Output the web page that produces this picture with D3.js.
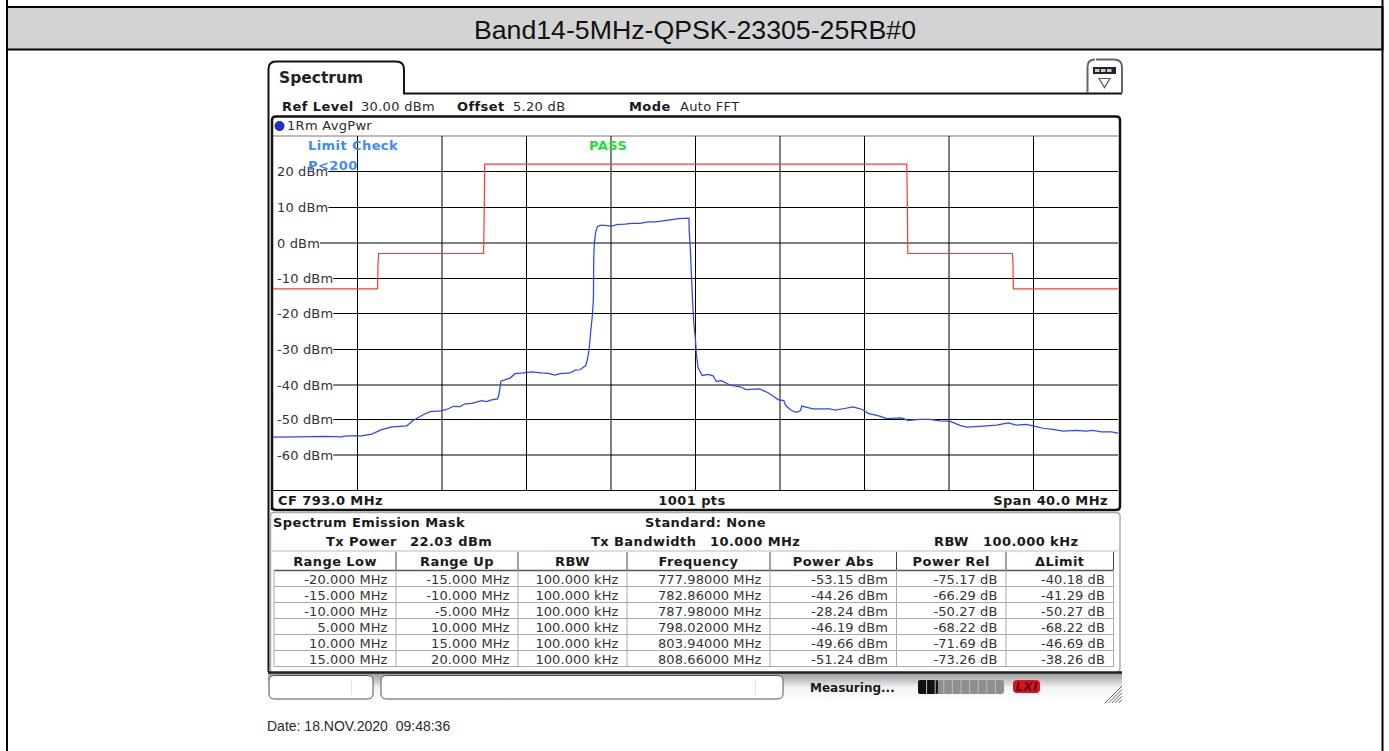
<!DOCTYPE html>
<html>
<head>
<meta charset="utf-8">
<style>
  html, body { margin: 0; background: #fff; overflow: hidden; }
  text { font-family: "DejaVu Sans", sans-serif; font-size: 13px; fill: #2a2a2a; white-space: pre; letter-spacing: 0.3px; }
  .b { font-weight: bold; letter-spacing: 0.42px; fill: #1a1a1a; }
  .cell { letter-spacing: 0.1px; fill: #333; }
  .tick text { font-size: 13px; fill: #333; letter-spacing: 0.15px; }
</style>
</head>
<body>
<svg id="chart" width="1389" height="751"></svg>
<script src="https://cdn.jsdelivr.net/npm/d3@7"></script>
<script>
const title = `Band14-5MHz-QPSK-23305-25RB#0`;
const yTicks = [20, 10, 0, -10, -20, -30, -40, -50, -60];
const softY = [0, -40, -60];

// limit line, MHz / dBm
const limitMhz = [773, 777.95, 777.97, 778, 782.97, 783, 783.02, 803, 803.03, 803.05, 808, 808.03, 808.05, 813];
const limitDbm = [-13, -13, -6, -3, -3, 10, 22.2, 22.2, 10, -3, -3, -6, -13, -13];

// trace
const traceMhz = [773, 774.2, 775.46, 776.28, 776.35, 777, 777.13, 777.67, 778.14, 778.62, 779.33, 779.64, 780.04, 780.43, 780.98, 781.3, 781.54, 781.85, 782.09, 782.4, 782.88, 783.1, 783.35, 783.63, 783.7, 783.79, 784.22, 784.46, 784.85, 785.24, 785.72, 786.03, 786.35, 786.59, 787.06, 787.3, 787.53, 787.8, 787.88, 787.96, 788.04, 788.12, 788.17, 788.18, 788.21, 788.26, 788.35, 788.48, 788.72, 789, 789.35, 789.66, 789.98, 790.37, 790.76, 791.08, 791.39, 791.71, 792.18, 792.69, 792.7, 792.75, 792.81, 792.86, 792.92, 793, 793.05, 793.13, 793.32, 793.6, 793.83, 793.99, 794.23, 794.62, 795.1, 795.41, 796.04, 796.44, 796.68, 796.91, 797.18, 797.27, 797.54, 797.78, 797.97, 798.03, 798.33, 798.57, 799.36, 799.59, 799.99, 800.46, 800.9, 801.17, 801.72, 802.04, 802.75, 803.06, 803.62, 804.09, 804.57, 805.04, 805.51, 805.86, 806.62, 807.25, 807.8, 808.19, 808.66, 808.98, 809.45, 810, 810.4, 811.03, 811.5, 811.82, 812.21, 812.69, 813];
const traceDbm = [-54.8, -54.7, -54.6, -54.75, -54.5, -54.4, -54.55, -53.95, -52.7, -51.9, -51.6, -50.1, -48.7, -47.6, -47.4, -46.8, -46.1, -46.2, -45.4, -45.3, -44.5, -44.8, -44.3, -44, -42.6, -39, -38.15, -36.9, -36.7, -36.4, -36.7, -36.8, -37.3, -36.9, -36.7, -35.9, -35.8, -34.6, -33, -30.2, -25, -20.4, -15.2, -4.9, -0.2, 2.6, 4.5, 4.9, 4.9, 4.7, 5.2, 5.3, 5.5, 5.5, 5.9, 5.9, 6.1, 6.4, 6.85, 7, 3.6, -1.1, -9.6, -16.2, -22.7, -27.4, -32.1, -35.3, -37.4, -37.1, -37.5, -39.1, -38.9, -40.1, -40.6, -41.4, -41.2, -42.3, -43.3, -44.2, -44.5, -45.9, -47.3, -47.8, -47.3, -46.05, -46.5, -46.8, -46.8, -47.2, -46.8, -46.3, -47, -48.1, -48.9, -49.6, -49.4, -50.1, -49.8, -49.8, -50.2, -50.3, -51.5, -52, -51.7, -51.4, -50.8, -51.4, -51.2, -51.6, -52.3, -52.7, -53.1, -52.9, -53.1, -52.9, -53.3, -53.3, -53.7];

// result table
const tableHeader = [`Range Low`, `Range Up`, `RBW`, `Frequency`, `Power Abs`, `Power Rel`, `ΔLimit`];
const rangeLow = [`-20.000 MHz`, `-15.000 MHz`, `-10.000 MHz`, `5.000 MHz`, `10.000 MHz`, `15.000 MHz`];
const rangeUp = [`-15.000 MHz`, `-10.000 MHz`, `-5.000 MHz`, `10.000 MHz`, `15.000 MHz`, `20.000 MHz`];
const rbw = [`100.000 kHz`, `100.000 kHz`, `100.000 kHz`, `100.000 kHz`, `100.000 kHz`, `100.000 kHz`];
const frequency = [`777.98000 MHz`, `782.86000 MHz`, `787.98000 MHz`, `798.02000 MHz`, `803.94000 MHz`, `808.66000 MHz`];
const powerAbs = [`-53.15 dBm`, `-44.26 dBm`, `-28.24 dBm`, `-46.19 dBm`, `-49.66 dBm`, `-51.24 dBm`];
const powerRel = [`-75.17 dB`, `-66.29 dB`, `-50.27 dB`, `-68.22 dB`, `-71.69 dB`, `-73.26 dB`];
const deltaLimit = [`-40.18 dB`, `-41.29 dB`, `-50.27 dB`, `-68.22 dB`, `-46.69 dB`, `-38.26 dB`];

const svg = d3.select(`#chart`);
const x = d3.scaleLinear().domain([773, 813]).range([273, 1118]);
const y = d3.scaleLinear().domain([30, -70]).range([136.5, 491]);

const label = (px, py, str, cls, anchor) => svg.append(`text`)
  .attr(`x`, px).attr(`y`, py)
  .attr(`class`, cls || null)
  .attr(`text-anchor`, anchor || `start`)
  .text(str);

const box = (d, stroke, width, fill) => svg.append(`path`)
  .attr(`d`, d)
  .attr(`fill`, fill || `none`)
  .attr(`stroke`, stroke)
  .attr(`stroke-width`, width);

// page frame
svg.append(`rect`).attr(`x`, 7).attr(`y`, 7).attr(`width`, 1375.5).attr(`height`, 42.5)
  .attr(`fill`, `#d3d3d3`).attr(`stroke`, `#000`).attr(`stroke-width`, 2);
box(`M7 0V751M1382.5 0V751`, `#000`, 2);
label(695, 39, title).attr(`text-anchor`, `middle`)
  .style(`font-family`, `"Liberation Sans", sans-serif`).style(`font-size`, `26.7px`).style(`fill`, `#111`).style(`letter-spacing`, `0`);

// spectrum tab and window outline
box(`M268.5 672V69Q268.5 61.5 276 61.5H396Q404 61.5 404 69V93.5H1122`, `#111`, 2);
label(279, 83, `Spectrum`).style(`font-size`, `15.5px`).style(`font-weight`, 600).style(`fill`, `#222`).style(`letter-spacing`, `0`);

// softkey icon
box(`M1096 59.5H1114Q1122 59.5 1122 67V93M1087.5 93V67Q1087.5 59.5 1095 59.5`, `#666`, 2);
svg.append(`rect`).attr(`x`, 1093).attr(`y`, 67).attr(`width`, 23).attr(`height`, 7).attr(`fill`, `#223`);
svg.selectAll(`.icon-cell`).data(d3.range(3)).enter().append(`rect`)
  .attr(`x`, (d) => 1095 + d * 6).attr(`y`, 69).attr(`width`, 4.5).attr(`height`, 3).attr(`fill`, `#ccc`);
box(`M1099 78.5H1110L1104.5 87.5Z`, `#556`, 1.2, `#fff`);

// settings row
label(282, 111, `Ref Level`, `b`);
label(361, 111, `30.00 dBm`);
label(457, 111, `Offset`, `b`);
label(513, 111, `5.20 dB`);
label(629, 111, `Mode`, `b`);
label(680, 111, `Auto FFT`);

// diagram window
box(`M272 510V120Q272 116.5 276 116.5H1116Q1120 116.5 1120 120V506Q1120 510 1116 510H276Q272 510 272 506`, `#111`, 2.5);
svg.append(`line`).attr(`x1`, 273).attr(`x2`, 1118).attr(`y1`, 136).attr(`y2`, 136).attr(`stroke`, `#777`);
svg.append(`line`).attr(`x1`, 273).attr(`x2`, 1118).attr(`y1`, 490.5).attr(`y2`, 490.5).attr(`stroke`, `#111`);
svg.append(`circle`).attr(`cx`, 279.5).attr(`cy`, 126).attr(`r`, 4.5).attr(`fill`, `#1a2fe0`).attr(`stroke`, `#223`);
label(287, 130, `1Rm AvgPwr`);

// vertical grid
svg.append(`g`).attr(`transform`, `translate(0,490.5)`)
  .call(d3.axisBottom(x).tickValues(d3.range(777, 813, 4)).tickSize(-354.5).tickFormat(``))
  .call((g) => g.select(`.domain`).remove())
  .call((g) => g.selectAll(`.tick`).attr(`transform`, (d) => `translate(${x(d)},0)`))
  .call((g) => g.selectAll(`line`).attr(`stroke`, `#000`));

// horizontal grid, labels sit inside the plot and the line starts after them
svg.append(`g`).attr(`transform`, `translate(1118,0)`)
  .call(d3.axisLeft(y).tickValues(yTicks).tickSize(0).tickFormat((d) => `${d} dBm`))
  .call((g) => g.select(`.domain`).remove())
  .call((g) => g.selectAll(`.tick`).each(function(d) {
    const tick = d3.select(this);
    const soft = softY.includes(d);
    // whole pixel gives the grey 2px look of the scaled screenshot
    const py = soft ? Math.round(y(d) - 0.12) : Math.floor(y(d) - 0.15) + 0.5;
    tick.attr(`transform`, `translate(0,${py})`);
    const text = tick.select(`text`)
      .attr(`text-anchor`, `start`)
      .attr(`x`, 277 - 1118)
      .attr(`y`, 0.5)
      .attr(`dy`, `0.32em`);
    const end = 277 - 1118 + text.node().getComputedTextLength();
    tick.select(`line`).attr(`x1`, end).attr(`x2`, 0).attr(`stroke`, `#000`);
  }));

// limit and trace lines
const line = (xs, ys) => d3.line().x((d) => x(d)).y((d, i) => y(ys[i]))(xs);
box(line(limitMhz, limitDbm), `#ff3a2a`, 1.2);
box(line(traceMhz, traceDbm), `#2b45ff`, 1.25);

label(308, 150, `Limit Check`, `b`).style(`fill`, `#3d8bff`);
label(308, 170, `P<200`, `b`).style(`fill`, `#3d8bff`);
label(589, 150, `PASS`, `b`).style(`fill`, `#22dd33`);

label(278, 505, `CF 793.0 MHz`, `b`);
label(692, 505, `1001 pts`, `b`, `middle`);
label(1108, 505, `Span 40.0 MHz`, `b`, `end`);

// result panel
box(`M270.5 672V516Q270.5 512.5 274 512.5H1116Q1120 512.5 1120 516V668Q1120 672 1116 672`, `#aaa`, 1.5);
label(273, 527, `Spectrum Emission Mask`, `b`);
label(645, 527, `Standard: None`, `b`);
label(326, 546, `Tx Power`, `b`);
label(410, 546, `22.03 dBm`, `b`);
label(591, 546, `Tx Bandwidth`, `b`);
label(710, 546, `10.000 MHz`, `b`);
label(934, 546, `RBW`, `b`);
label(983, 546, `100.000 kHz`, `b`);

const columnEdges = [274, 396, 518, 627, 770, 896.5, 1006, 1113.5];
const columns = [rangeLow, rangeUp, rbw, frequency, powerAbs, powerRel, deltaLimit];
const rowY = d3.scaleLinear().domain([0, 6]).range([570.5, 666.5]);

svg.append(`line`).attr(`x1`, 272).attr(`x2`, 1118).attr(`y1`, 551).attr(`y2`, 551).attr(`stroke`, `#bbb`);
rowY.ticks(6).forEach((r) => {
  svg.append(`line`).attr(`x1`, 274).attr(`x2`, 1114).attr(`y1`, rowY(r)).attr(`y2`, rowY(r))
    .attr(`stroke`, r === 0 ? `#555` : `#aaa`).attr(`stroke-width`, r === 0 ? 1.5 : 1);
});
columnEdges.forEach((edge, i) => {
  svg.append(`line`).attr(`x1`, edge).attr(`x2`, edge).attr(`y1`, 570).attr(`y2`, 666.5).attr(`stroke`, `#aaa`);
  if (i > 0) svg.append(`line`).attr(`x1`, edge).attr(`x2`, edge).attr(`y1`, 552).attr(`y2`, 570).attr(`stroke`, `#444`);
});
columns.forEach((col, c) => {
  label((columnEdges[c] + columnEdges[c + 1]) / 2, 566, tableHeader[c], `b`, `middle`);
  svg.selectAll(null).data(col).enter().append(`text`)
    .attr(`class`, `cell`)
    .attr(`x`, columnEdges[c + 1] - 8.5)
    .attr(`y`, (d, i) => rowY(i) + 13)
    .attr(`text-anchor`, `end`)
    .text((d) => d);
});

// status bar
const fade = svg.append(`defs`).append(`linearGradient`).attr(`id`, `fade`).attr(`x1`, 0).attr(`x2`, 0).attr(`y1`, 0).attr(`y2`, 1);
fade.append(`stop`).attr(`offset`, 0).attr(`stop-color`, `#999`);
fade.append(`stop`).attr(`offset`, 0.5).attr(`stop-color`, `#f2f2f2`);
fade.append(`stop`).attr(`offset`, 1).attr(`stop-color`, `#fff`);
svg.append(`rect`).attr(`x`, 268).attr(`y`, 673).attr(`width`, 854).attr(`height`, 29).attr(`fill`, `url(#fade)`);
box(`M268 672.5H1122`, `#222`, 2.5);
box(`M275 675.5H367Q373 675.5 373 680V694Q373 699 367 699H275Q269 699 269 694V680Q269 675.5 275 675.5`, `#555`, 1, `#fff`);
box(`M387 675.5H777Q783 675.5 783 680V694Q783 699 777 699H387Q381 699 381 694V680Q381 675.5 387 675.5`, `#555`, 1, `#fff`);
box(`M351.5 679V695M755.5 679V695`, `#e4e4e4`, 1);
label(810, 692, `Measuring...`, `b`).style(`font-size`, `12px`).style(`letter-spacing`, `0`);

svg.append(`rect`).attr(`x`, 918).attr(`y`, 680).attr(`width`, 86).attr(`height`, 14).attr(`rx`, 3).attr(`fill`, `#8e8e8e`);
svg.append(`rect`).attr(`x`, 918).attr(`y`, 680).attr(`width`, 20).attr(`height`, 14).attr(`rx`, 2).attr(`fill`, `#111`);
svg.selectAll(`.tick-sep`).data(d3.range(1, 10)).enter().append(`line`)
  .attr(`x1`, (d) => 918 + d * 8.6).attr(`x2`, (d) => 918 + d * 8.6)
  .attr(`y1`, 680).attr(`y2`, 694).attr(`stroke`, `#bbb`);

svg.append(`rect`).attr(`x`, 1013).attr(`y`, 680).attr(`width`, 27).attr(`height`, 13).attr(`rx`, 4).attr(`fill`, `#e01020`);
label(1026.5, 691, `LXI`, `b`, `middle`).style(`font-size`, `12px`).style(`font-style`, `italic`).style(`fill`, `#501020`);

svg.selectAll(`.hatch`).data(d3.range(6)).enter().append(`line`)
  .attr(`x1`, (d) => 1105 + d * 3.4).attr(`y1`, 703)
  .attr(`x2`, 1122).attr(`y2`, (d) => 686 + d * 3.4)
  .attr(`stroke`, `#666`);

label(267, 731, `Date: 18.NOV.2020  09:48:36`)
  .style(`font-family`, `"Liberation Sans", sans-serif`).style(`font-size`, `14px`).style(`letter-spacing`, `0`);
</script>
</body>
</html>
